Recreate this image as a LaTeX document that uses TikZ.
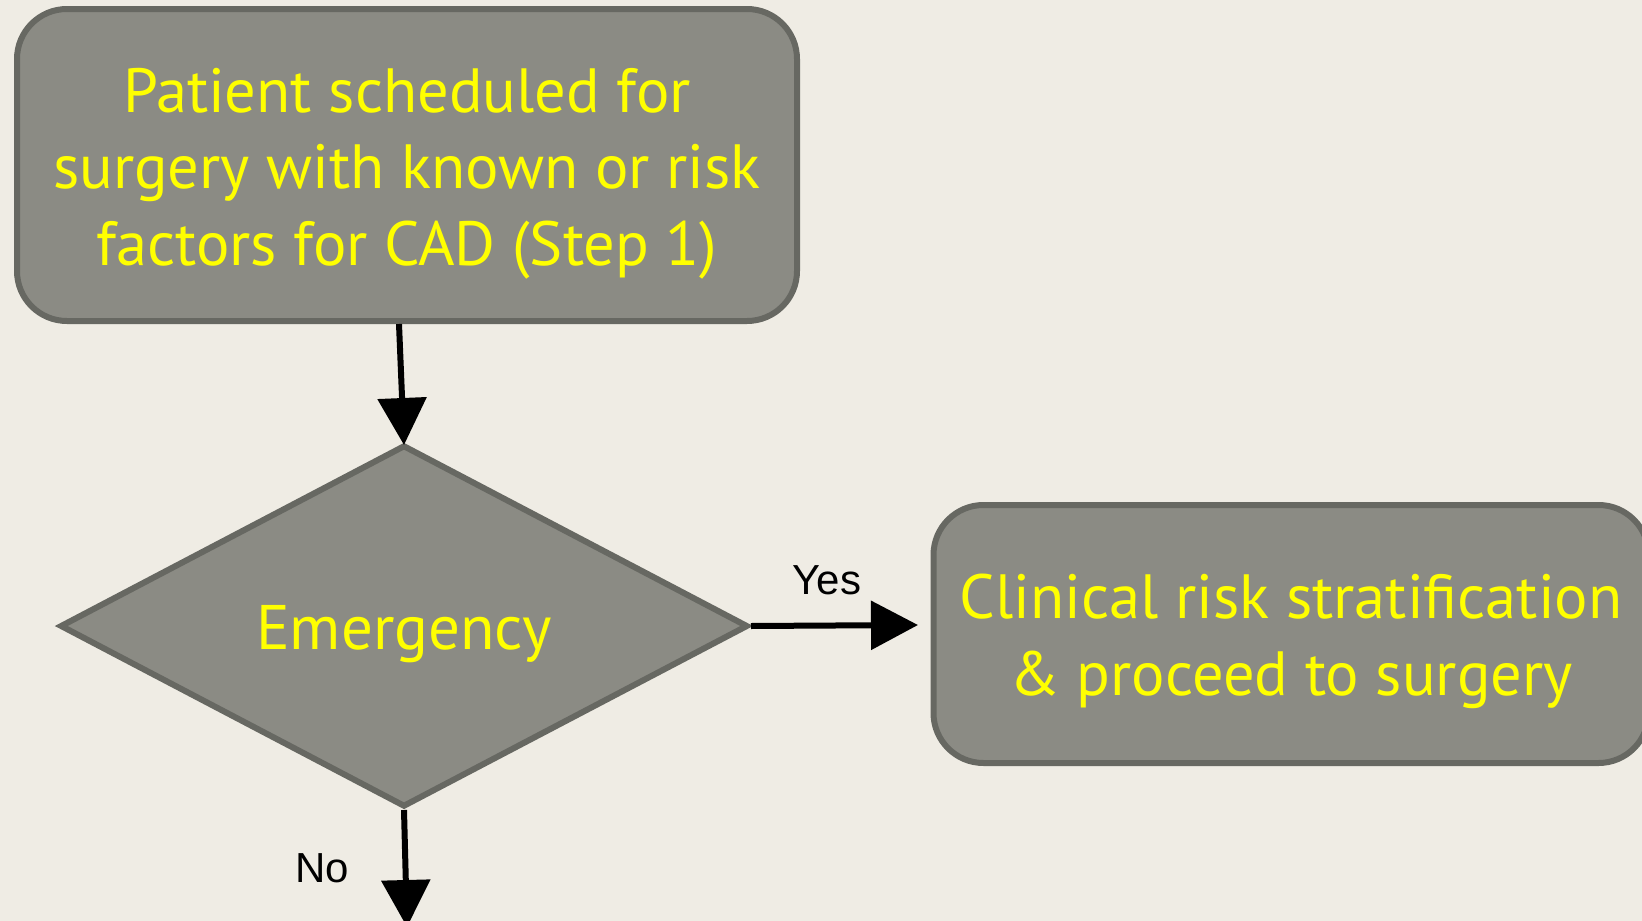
\documentclass[tikz,border=0pt]{standalone}
\usepackage{fontspec}
\setmainfont{Liberation Sans}
\newfontfamily\boxfont{PT Sans}
\usetikzlibrary{shapes.geometric,arrows.meta}
\definecolor{paper}{HTML}{EFECE4}
\definecolor{boxfill}{HTML}{8B8B84}
\definecolor{boxline}{HTML}{676862}
\definecolor{boxtext}{HTML}{FFFF00}
\tikzset{
  stepbox/.style={draw=boxline, fill=boxfill, line width=6pt, rounded corners=50pt,
    text=boxtext, align=center, inner sep=0pt, text depth=0pt,
    font=\boxfont\fontsize{62.5}{76.5}\selectfont},
  decision/.style={diamond, draw=boxline, fill=boxfill, line width=6pt,
    text=boxtext, inner sep=0pt, aspect=1.9, text depth=0pt,
    font=\boxfont\fontsize{63}{76.5}\selectfont},
  flow/.style={line width=6pt, -{Triangle[length=47pt,width=48pt]}},
  answer/.style={font=\fontsize{42}{50}\selectfont, anchor=base, inner sep=0pt}
}
\begin{document}
\begin{tikzpicture}[x=1pt,y=-1pt]
  \fill[paper] (0,0) rectangle (1642,921);
  \useasboundingbox (0,0) rectangle (1642,921);

  \node[stepbox, text height=200pt, minimum width=780pt, minimum height=312pt] (start) at (407,165)
    {Patient scheduled for\\surgery with known or risk\\factors for CAD (Step 1)};

  \node[decision, text height=46pt, minimum width=688pt, minimum height=362pt] (emerg) at (404,626)
    {Emergency};

  \node[stepbox, text height=122pt, minimum width=715pt, minimum height=258pt] (proceed) at (1291,634)
    {Clinical risk stratification\\\& proceed to surgery};

  \coordinate (yesend) at (918,625);
  \coordinate (noend) at (407,927);

  \draw[flow] ([xshift=-8pt]start.south) -- ([yshift=-3pt]emerg.north);
  \draw[flow] (emerg.east) -- (yesend);
  \draw[flow] (emerg.south) -- (noend);

  \node[answer] (yes) at (827,594) {Yes};
  \node[answer] (no) at (322,882) {No};
\end{tikzpicture}
\end{document}
